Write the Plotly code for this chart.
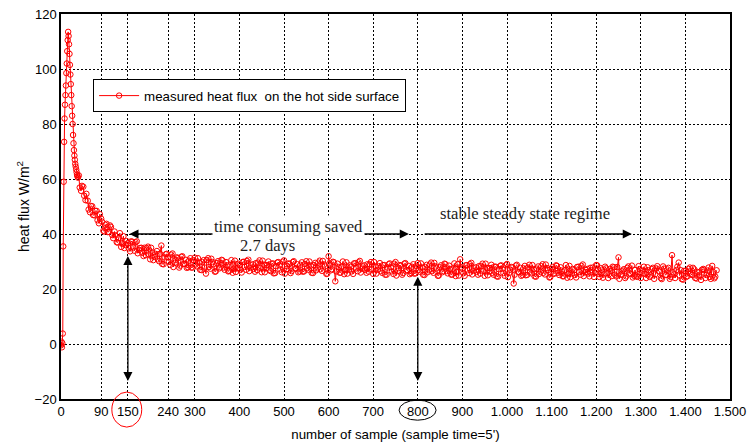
import plotly.graph_objects as go

# ---- measured data: sample number (sample time = 5 min) vs heat flux [W/m²] ----
samples_start = list(range(0, 39))
flux_start = [
    -0.5, 0.8, -1.2, 0.3, 3.8, 35.5, 59.0, 73.5, 82.0, 87.0,
    90.5, 94.0, 98.5, 102.0, 106.5, 110.5, 113.5, 112.0, 109.0, 105.5,
    101.5, 98.0, 94.5, 90.5, 86.5, 83.0, 80.0, 76.0, 73.0, 70.5,
    68.5, 67.0, 65.5, 64.5, 63.5, 62.5, 61.5, 61.0, 60.5,
]

# samples 40, 45, 50, ...
samples_a = list(range(40, 1471, 5))
flux_a = [
    61.3, 55.7, 57.2, 52.3, 52.1, 47.9, 50.1, 46.8, 48.4, 43.9,
    45.6, 41.2, 43.3, 40.7, 43.1, 39.6, 40.9, 37.0, 38.6, 35.3,
    39.2, 36.0, 36.7, 33.7, 37.2, 33.9, 37.3, 34.2, 35.0, 32.0,
    32.3, 35.4, 30.8, 33.2, 31.7, 33.8, 30.1, 35.8, 29.0, 32.6,
    31.5, 28.8, 32.9, 29.5, 31.5, 27.8, 31.7, 29.2, 30.6, 27.9,
    31.2, 27.8, 31.4, 28.2, 29.6, 26.9, 30.5, 25.6, 31.2, 27.4,
    29.8, 26.3, 29.4, 27.5, 30.6, 27.8, 29.8, 26.4, 28.6, 25.9,
    30.3, 27.6, 28.7, 26.0, 29.9, 27.0, 30.7, 27.8, 29.0, 26.3,
    26.9, 30.4, 26.1, 28.8, 27.6, 30.0, 26.5, 29.3, 25.8, 29.6,
    28.6, 26.1, 30.4, 27.2, 29.3, 25.8, 29.8, 27.5, 29.0, 26.4,
    29.7, 26.4, 30.1, 27.0, 28.5, 25.8, 29.5, 27.5, 30.3, 26.6,
    28.9, 25.5, 31.9, 26.8, 29.9, 22.8, 29.2, 25.9, 28.1, 25.4,
    29.7, 27.0, 28.1, 25.5, 29.4, 26.5, 30.2, 27.4, 28.6, 25.9,
    26.3, 29.8, 25.5, 28.2, 27.0, 29.4, 25.9, 28.7, 25.2, 29.0,
    27.9, 25.5, 29.8, 26.6, 28.7, 25.2, 29.2, 26.9, 28.4, 25.8,
    29.0, 25.7, 29.4, 26.3, 27.8, 25.1, 28.8, 26.8, 29.6, 25.9,
    28.2, 24.8, 27.9, 26.1, 29.2, 26.5, 28.5, 25.2, 27.4, 24.7,
    29.0, 30.8, 27.4, 24.8, 28.7, 25.8, 29.5, 26.7, 27.9, 25.2,
    25.6, 29.2, 24.8, 27.6, 26.4, 28.8, 25.2, 28.1, 24.5, 28.4,
    27.3, 24.8, 29.1, 25.9, 28.0, 22.0, 28.5, 26.2, 27.7, 25.1,
    28.4, 25.1, 28.8, 25.7, 27.2, 24.5, 28.2, 26.2, 29.0, 25.3,
    27.6, 24.2, 27.3, 25.5, 28.6, 25.9, 27.9, 24.6, 26.8, 24.1,
    28.4, 25.7, 26.8, 24.2, 28.1, 25.2, 28.9, 26.1, 27.3, 24.6,
    26.9, 24.4, 28.7, 25.5, 27.6, 24.1, 28.1, 25.8, 27.3, 24.7,
    27.9, 24.6, 31.5, 25.2, 26.7, 24.0, 27.7, 25.7, 28.5, 24.8,
    24.8, 28.3, 24.0, 26.7, 25.5, 27.9, 24.4, 27.2, 23.7, 27.5,
    26.5, 24.0, 28.2, 25.1, 27.1, 23.7, 32.3, 25.3, 26.9, 29.6,
    26.8, 23.4, 26.5, 24.7, 27.8, 25.1, 27.1, 23.8, 26.0, 23.3,
    27.3, 24.0, 26.7, 24.4, 28.4, 23.9, 26.8,
]

# samples 42, 47, 52, ...
samples_b = list(range(42, 1468, 5))
flux_b = [
    56.9, 57.5, 53.9, 54.6, 48.9, 50.2, 46.9, 48.4, 45.0, 47.2,
    44.5, 40.9, 43.7, 40.8, 42.6, 38.5, 39.5, 36.9, 40.3, 36.6,
    34.9, 37.4, 34.8, 37.3, 35.1, 37.0, 33.0, 34.9, 33.2, 35.0,
    34.9, 32.6, 35.0, 30.5, 32.8, 30.8, 32.8, 29.1, 31.5, 32.8,
    29.9, 32.5, 28.0, 30.6, 31.2, 28.5, 31.9, 29.1, 27.7, 30.3,
    27.8, 30.5, 28.9, 31.2, 27.0, 29.8, 27.8, 30.5, 28.0, 31.0,
    29.0, 26.4, 30.1, 27.9, 30.4, 27.0, 28.6, 26.6, 30.5, 27.4,
    26.2, 29.2, 27.0, 29.8, 28.0, 30.2, 26.5, 28.6, 27.3, 29.4,
    29.6, 27.6, 30.3, 26.1, 28.7, 27.0, 29.2, 25.7, 28.3, 29.8,
    27.1, 29.9, 25.6, 28.3, 29.1, 26.5, 30.1, 27.4, 26.1, 28.8,
    26.3, 29.1, 27.6, 30.0, 25.9, 28.7, 26.8, 29.6, 27.2, 30.2,
    28.2, 25.6, 29.3, 27.2, 29.7, 26.4, 28.0, 26.0, 30.0, 26.9,
    25.6, 28.6, 26.4, 29.3, 27.5, 29.7, 26.0, 28.2, 26.9, 29.0,
    29.0, 27.1, 29.8, 25.6, 28.2, 26.5, 28.7, 25.2, 27.8, 29.3,
    26.4, 29.2, 24.9, 27.6, 28.4, 25.8, 29.4, 26.7, 25.4, 28.1,
    25.6, 28.4, 26.9, 29.3, 25.2, 28.0, 26.1, 28.9, 26.5, 29.5,
    27.5, 24.9, 28.6, 26.5, 29.0, 25.7, 27.3, 25.3, 29.3, 26.2,
    24.9, 27.9, 25.7, 28.6, 26.8, 29.0, 25.3, 27.5, 26.2, 28.3,
    28.4, 26.5, 29.2, 25.0, 27.6, 25.9, 28.1, 24.6, 27.2, 28.6,
    25.8, 28.6, 24.3, 27.0, 27.8, 25.2, 28.8, 26.1, 24.8, 27.5,
    25.0, 27.8, 26.3, 28.7, 24.6, 27.4, 25.5, 28.3, 25.9, 28.9,
    26.9, 24.3, 28.0, 25.9, 28.4, 25.1, 26.7, 24.7, 28.7, 25.6,
    24.3, 27.3, 25.1, 28.0, 26.2, 28.4, 24.7, 26.9, 25.6, 27.7,
    27.8, 25.9, 28.6, 24.4, 27.0, 25.3, 27.5, 24.0, 26.6, 28.1,
    25.2, 28.0, 23.7, 26.4, 27.2, 24.6, 28.2, 25.5, 24.2, 26.9,
    24.4, 27.2, 25.7, 28.1, 24.0, 26.8, 24.9, 27.7, 25.3, 28.3,
    26.3, 23.6, 27.4, 25.2, 27.7, 24.4, 26.1, 24.0, 28.1, 24.9,
    23.6, 26.6, 24.4, 27.3, 25.5, 27.7, 24.0, 26.2, 24.9, 27.0,
    27.0, 25.1, 27.8, 23.7, 26.2, 24.5,
]

# merge into one time-ordered record
records = sorted(zip(samples_start + samples_a + samples_b,
                     flux_start + flux_a + flux_b))
samples = [r[0] for r in records]
flux = [r[1] for r in records]

# ---- axis ticks ----
x_tick_vals = [0, 90, 150, 240, 300, 400, 500, 600, 700, 800, 900,
               1000, 1100, 1200, 1300, 1400, 1500]
x_tick_text = ["0", "90", "150", "240", "300", "400", "500", "600", "700",
               "800", "900", "1.000", "1.100", "1.200", "1.300", "1.400", "1.500"]
y_tick_vals = [-20, 0, 20, 40, 60, 80, 100, 120]

# ---- annotation anchors (data units) ----
arrow_level = 40
saved_from, saved_to = 150, 780
stable_from, stable_to = 812, 1280
marker_samples = [150, 800]
marker_upper = [32.0, 24.5]
marker_lower = -14.0

SANS = "Liberation Sans, Arial, sans-serif"
SERIF = "Liberation Serif, Times New Roman, serif"
TEXT_GREY = "rgb(30,30,30)"

fig = go.Figure()
fig.add_trace(go.Scatter(
    x=samples, y=flux, mode="lines+markers",
    name="measured heat flux\u00a0 on the hot side surface",
    line=dict(color="rgb(255,0,0)", width=1),
    marker=dict(symbol="circle-open", size=5.5, color="rgb(255,0,0)",
                line=dict(width=1, color="rgb(255,0,0)")),
))

axis_common = dict(
    showline=True, linecolor="black", linewidth=1.5, mirror=True,
    showgrid=True, gridcolor="black", gridwidth=1, griddash="2px,2px",
    zeroline=False, ticks="", automargin=False,
    tickfont=dict(family=SANS, size=13, color="black"),
)

fig.update_xaxes(
    range=[0, 1500], tickmode="array", tickvals=x_tick_vals, ticktext=x_tick_text,
    title=dict(text="number of sample (sample time=5')",
               font=dict(family=SANS, size=13.3, color="black"), standoff=14),
    **axis_common,
)
fig.update_yaxes(
    range=[-20, 120], tickmode="array", tickvals=y_tick_vals,
    title=dict(text="heat flux W/m<sup>2</sup>",
               font=dict(family=SANS, size=14, color="black"), standoff=2),
    **axis_common,
)

arrow_style = dict(xref="x", yref="y", axref="x", ayref="y", text="",
                   showarrow=True, arrowhead=2, arrowsize=1.4,
                   arrowwidth=1.3, arrowcolor="black")
annotations = []
# horizontal arrows
annotations.append(dict(
    x=saved_to, y=arrow_level, ax=saved_from, ay=arrow_level,
    startarrowhead=2, startarrowsize=1.4, arrowside="end+start", **arrow_style,
))
annotations.append(dict(
    x=stable_to, y=arrow_level, ax=stable_from, ay=arrow_level, **arrow_style,
))
# vertical double arrows
for xs, top in zip(marker_samples, marker_upper):
    annotations.append(dict(
        x=xs, y=top, ax=xs, ay=marker_lower,
        startarrowhead=2, startarrowsize=1.4, arrowside="end+start", **arrow_style,
    ))
# text labels
annotations.append(dict(
    x=509, y=42.7, xref="x", yref="y", text="time consuming saved",
    showarrow=False, bgcolor="white", borderpad=1,
    font=dict(family=SERIF, size=16.6, color=TEXT_GREY),
))
annotations.append(dict(
    x=464, y=35.7, xref="x", yref="y", text="2.7 days",
    showarrow=False, bgcolor="white", borderpad=1,
    font=dict(family=SERIF, size=16.6, color=TEXT_GREY),
))
annotations.append(dict(
    x=1040, y=47.4, xref="x", yref="y", text="stable steady state regime",
    showarrow=False,
    font=dict(family=SERIF, size=16.6, color=TEXT_GREY),
))

shapes = [
    dict(type="circle", xref="x", yref="paper", x0=114, x1=181, y0=-0.073, y1=0.018,
         line=dict(color="red", width=1)),
    dict(type="circle", xref="x", yref="paper", x0=758, x1=841, y0=-0.055, y1=-0.003,
         line=dict(color="black", width=1)),
]

fig.update_layout(
    width=748, height=442,
    margin=dict(l=61, r=18, t=14, b=43),
    paper_bgcolor="white", plot_bgcolor="white",
    font=dict(family=SANS, color="black"),
    showlegend=True,
    legend=dict(x=0.048, y=0.83, xanchor="left", yanchor="top",
                bordercolor="black", borderwidth=1, bgcolor="white",
                font=dict(family=SANS, size=13.3, color="black"),
                tracegroupgap=0, itemwidth=40),
    annotations=annotations,
    shapes=shapes,
)

fig.write_html("out.html")
